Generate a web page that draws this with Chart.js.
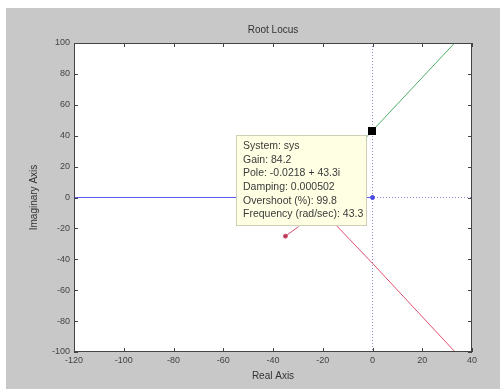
<!DOCTYPE html>
<html>
<head>
<meta charset="utf-8">
<script src="https://cdn.jsdelivr.net/npm/chart.js@4.4.0/dist/chart.umd.min.js"></script>
<style>
  html, body { margin: 0; padding: 0; background: #fff; }
  #wrap { width: 500px; height: 389px; }
</style>
</head>
<body>
<div id="wrap"><canvas id="rootLocus" width="500" height="389"></canvas></div>
<script>
// axis ranges / ticks
const xTicks = [-120, -100, -80, -60, -40, -20, 0, 20, 40];
const yTicks = [-100, -80, -60, -40, -20, 0, 20, 40, 60, 80, 100];

// locus branches (real, imag)
const blueBranch = [{x: -120, y: 0}, {x: 0, y: 0}];
const bluePole = [{x: 0, y: 0}];
const greenBranch = [{x: -25, y: 0}, {x: 0, y: 43.3}, {x: 33, y: 100}];
const redBranch = [{x: -25, y: 0}, {x: -14.6, y: -18}, {x: 0, y: -42.6}, {x: 33.2, y: -100}];
const redStub = [{x: -35, y: -25}, {x: -29.7, y: -18.8}];
const selectedPole = [{x: -0.0218, y: 43.3}];

// datatip text
const tipLines = [
    "System: sys",
    "Gain: 84.2",
    "Pole: -0.0218 + 43.3i",
    "Damping: 0.000502",
    "Overshoot (%): 99.8",
    "Frequency (rad/sec): 43.3"
];

const matlabFrame = {
    id: 'matlabFrame',
    beforeDraw: function (chart) {
        const ctx = chart.ctx;
        const a = chart.chartArea;
        ctx.save();
        ctx.fillStyle = '#ffffff';
        ctx.fillRect(0, 0, chart.width, chart.height);
        ctx.fillStyle = '#c8c8c8';
        ctx.fillRect(6, 8, chart.width - 6, chart.height - 8);
        ctx.fillStyle = '#ffffff';
        ctx.fillRect(a.left, a.top, a.right - a.left, a.bottom - a.top);
        ctx.restore();
    },
    afterDatasetsDraw: function (chart) {
        const ctx = chart.ctx;
        const a = chart.chartArea;
        const xs = chart.scales.x;
        const ys = chart.scales.y;
        ctx.save();
        // box
        ctx.strokeStyle = '#444';
        ctx.lineWidth = 1;
        ctx.strokeRect(a.left + 0.5, a.top + 0.5, a.right - a.left - 1, a.bottom - a.top - 1);
        // inward ticks
        ctx.beginPath();
        xTicks.forEach(function (v) {
            const p = Math.round(xs.getPixelForValue(v)) + 0.5;
            ctx.moveTo(p, a.bottom); ctx.lineTo(p, a.bottom - 4);
            ctx.moveTo(p, a.top); ctx.lineTo(p, a.top + 4);
        });
        yTicks.forEach(function (v) {
            const p = Math.round(ys.getPixelForValue(v)) + 0.5;
            ctx.moveTo(a.left, p); ctx.lineTo(a.left + 4, p);
            ctx.moveTo(a.right, p); ctx.lineTo(a.right - 4, p);
        });
        ctx.stroke();
        // title
        ctx.fillStyle = '#333';
        ctx.font = '10px "Liberation Sans", Arial, sans-serif';
        ctx.textAlign = 'center';
        ctx.textBaseline = 'middle';
        ctx.fillText('Root Locus', (a.left + a.right) / 2, 30);
        // datatip
        const bx = 236, by = 135, bw = 130, bh = 90;
        ctx.fillStyle = '#ffffe4';
        ctx.fillRect(bx, by, bw, bh);
        ctx.strokeStyle = '#cfcfb8';
        ctx.strokeRect(bx + 0.5, by + 0.5, bw, bh);
        ctx.fillStyle = '#3a3a3a';
        ctx.font = '10.5px "Liberation Sans", Arial, sans-serif';
        ctx.textAlign = 'left';
        tipLines.forEach(function (t, i) {
            ctx.fillText(t, bx + 7, by + 11 + i * 13.7);
        });
        // selected pole marker on top
        const sx = xs.getPixelForValue(selectedPole[0].x);
        const sy = ys.getPixelForValue(selectedPole[0].y);
        ctx.fillStyle = '#000';
        ctx.fillRect(Math.round(sx) - 4, Math.round(sy) - 4, 8, 8);
        ctx.restore();
    }
};

const zeroLine = function (ctx) {
    return ctx.tick && ctx.tick.value === 0 ? 'rgba(110,110,200,0.8)' : 'rgba(0,0,0,0)';
};

new Chart("rootLocus", {
    type: "scatter",
    data: {
        datasets: [
            { data: blueBranch, showLine: true, borderColor: 'rgb(90,90,240)', borderWidth: 1.2, pointRadius: 0 },
            { data: bluePole, showLine: false, borderColor: 'rgb(70,70,220)', backgroundColor: 'rgb(70,70,220)', pointRadius: 2, pointStyle: 'circle' },
            { data: greenBranch, showLine: true, borderColor: 'rgb(80,175,110)', borderWidth: 1, pointRadius: 0 },
            { data: redBranch, showLine: true, borderColor: 'rgb(228,80,110)', borderWidth: 1, pointRadius: 0 },
            { data: redStub, showLine: true, borderColor: 'rgb(215,80,110)', backgroundColor: 'rgb(170,60,90)', borderWidth: 1, pointRadius: [2, 0] }
        ]
    },
    options: {
        responsive: false,
        animation: false,
        events: [],
        layout: { padding: { left: 6, top: 43, right: 28, bottom: 0 } },
        plugins: {
            legend: { display: false },
            title: { display: false },
            tooltip: { enabled: false }
        },
        scales: {
            x: {
                type: 'linear',
                min: -120, max: 40,
                afterFit: function (s) { s.height = 37; },
                ticks: { stepSize: 20, color: '#444', padding: 3, font: { size: 9, family: '"Liberation Sans", Arial, sans-serif' } },
                grid: { color: zeroLine, drawTicks: false, lineWidth: 1 },
                border: { display: false, dash: [1, 2] },
                title: { display: true, text: 'Real Axis', color: '#333', padding: { bottom: 7 }, font: { size: 10, family: '"Liberation Sans", Arial, sans-serif' } }
            },
            y: {
                type: 'linear',
                min: -100, max: 100,
                afterFit: function (s) { s.width = 68; },
                ticks: { stepSize: 20, color: '#444', padding: 4, font: { size: 9, family: '"Liberation Sans", Arial, sans-serif' } },
                grid: { color: zeroLine, drawTicks: false, lineWidth: 1 },
                border: { display: false, dash: [1, 2] },
                title: { display: true, text: 'Imaginary Axis', color: '#333', padding: { top: 22 }, font: { size: 10, family: '"Liberation Sans", Arial, sans-serif' } }
            }
        }
    },
    plugins: [matlabFrame]
});
</script>
</body>
</html>
